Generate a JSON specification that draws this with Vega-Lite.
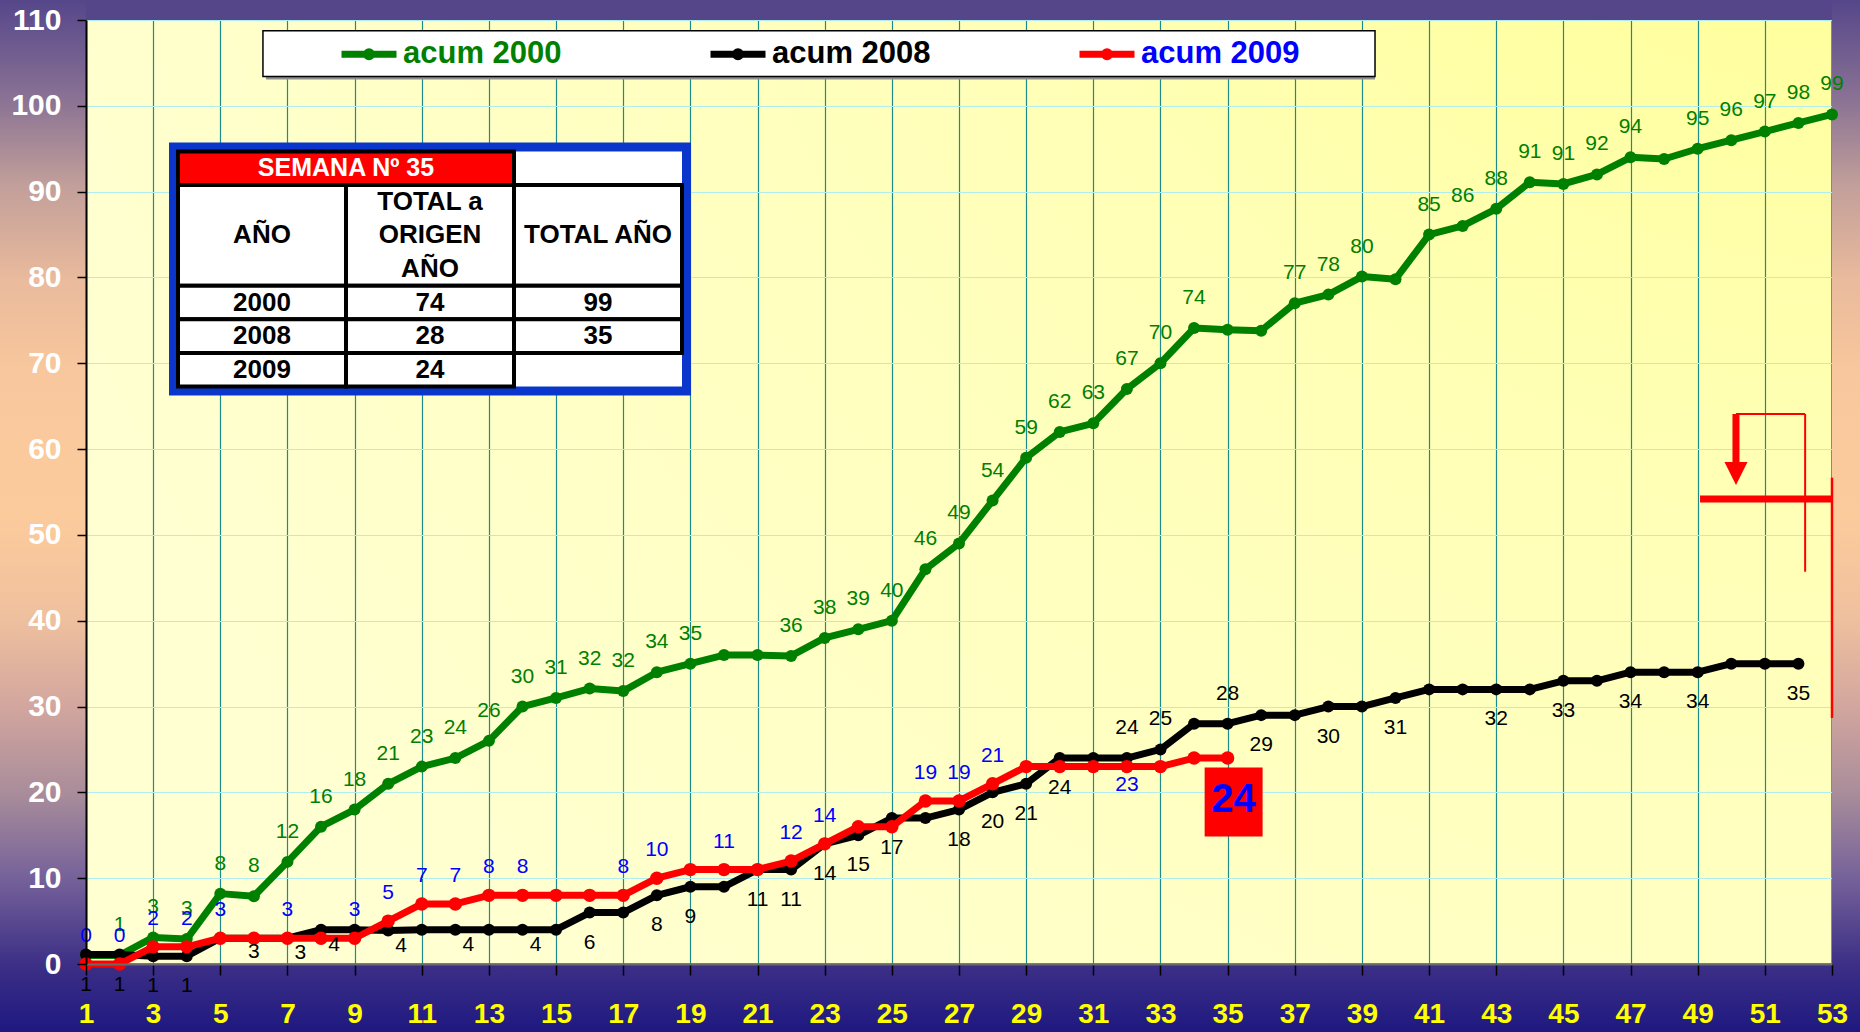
{
  "$schema": "https://vega.github.io/schema/vega-lite/v6.json",
  "width": 1746,
  "height": 944,
  "autosize": {"type": "none"},
  "padding": {"left": 86, "top": 20, "right": 28, "bottom": 68},
  "background": "#3c2f86",
  "config": {
    "font": "Liberation Sans",
    "view": {
      "fill": {"gradient": "radial", "x1": 1, "y1": 0, "r1": 0, "x2": 1, "y2": 0, "r2": 1.1,
        "stops": [{"offset": 0, "color": "#ffff8c"}, {"offset": 0.45, "color": "#ffffb6"}, {"offset": 1, "color": "#ffffd2"}]},
      "stroke": "#8c8c8c",
      "strokeWidth": 2
    }
  },
  "datasets": {
    "series": [
      {"semana": 1, "serie": "acum 2000", "valor": 1, "etiqueta": null},
      {"semana": 2, "serie": "acum 2000", "valor": 1, "etiqueta": "1"},
      {"semana": 3, "serie": "acum 2000", "valor": 3.1, "etiqueta": "3"},
      {"semana": 4, "serie": "acum 2000", "valor": 2.9, "etiqueta": "3"},
      {"semana": 5, "serie": "acum 2000", "valor": 8.2, "etiqueta": "8"},
      {"semana": 6, "serie": "acum 2000", "valor": 7.9, "etiqueta": "8"},
      {"semana": 7, "serie": "acum 2000", "valor": 11.9, "etiqueta": "12"},
      {"semana": 8, "serie": "acum 2000", "valor": 16, "etiqueta": "16"},
      {"semana": 9, "serie": "acum 2000", "valor": 18, "etiqueta": "18"},
      {"semana": 10, "serie": "acum 2000", "valor": 21, "etiqueta": "21"},
      {"semana": 11, "serie": "acum 2000", "valor": 23, "etiqueta": "23"},
      {"semana": 12, "serie": "acum 2000", "valor": 24, "etiqueta": "24"},
      {"semana": 13, "serie": "acum 2000", "valor": 26, "etiqueta": "26"},
      {"semana": 14, "serie": "acum 2000", "valor": 30, "etiqueta": "30"},
      {"semana": 15, "serie": "acum 2000", "valor": 31, "etiqueta": "31"},
      {"semana": 16, "serie": "acum 2000", "valor": 32.1, "etiqueta": "32"},
      {"semana": 17, "serie": "acum 2000", "valor": 31.8, "etiqueta": "32"},
      {"semana": 18, "serie": "acum 2000", "valor": 34, "etiqueta": "34"},
      {"semana": 19, "serie": "acum 2000", "valor": 35, "etiqueta": "35"},
      {"semana": 20, "serie": "acum 2000", "valor": 36, "etiqueta": null},
      {"semana": 21, "serie": "acum 2000", "valor": 36, "etiqueta": null},
      {"semana": 22, "serie": "acum 2000", "valor": 35.9, "etiqueta": "36"},
      {"semana": 23, "serie": "acum 2000", "valor": 38, "etiqueta": "38"},
      {"semana": 24, "serie": "acum 2000", "valor": 39, "etiqueta": "39"},
      {"semana": 25, "serie": "acum 2000", "valor": 40, "etiqueta": "40"},
      {"semana": 26, "serie": "acum 2000", "valor": 46, "etiqueta": "46"},
      {"semana": 27, "serie": "acum 2000", "valor": 49, "etiqueta": "49"},
      {"semana": 28, "serie": "acum 2000", "valor": 54, "etiqueta": "54"},
      {"semana": 29, "serie": "acum 2000", "valor": 59, "etiqueta": "59"},
      {"semana": 30, "serie": "acum 2000", "valor": 62, "etiqueta": "62"},
      {"semana": 31, "serie": "acum 2000", "valor": 63, "etiqueta": "63"},
      {"semana": 32, "serie": "acum 2000", "valor": 67, "etiqueta": "67"},
      {"semana": 33, "serie": "acum 2000", "valor": 70, "etiqueta": "70"},
      {"semana": 34, "serie": "acum 2000", "valor": 74.1, "etiqueta": "74"},
      {"semana": 35, "serie": "acum 2000", "valor": 73.9, "etiqueta": null},
      {"semana": 36, "serie": "acum 2000", "valor": 73.8, "etiqueta": null},
      {"semana": 37, "serie": "acum 2000", "valor": 77, "etiqueta": "77"},
      {"semana": 38, "serie": "acum 2000", "valor": 78, "etiqueta": "78"},
      {"semana": 39, "serie": "acum 2000", "valor": 80.1, "etiqueta": "80"},
      {"semana": 40, "serie": "acum 2000", "valor": 79.8, "etiqueta": null},
      {"semana": 41, "serie": "acum 2000", "valor": 85, "etiqueta": "85"},
      {"semana": 42, "serie": "acum 2000", "valor": 86, "etiqueta": "86"},
      {"semana": 43, "serie": "acum 2000", "valor": 88, "etiqueta": "88"},
      {"semana": 44, "serie": "acum 2000", "valor": 91.1, "etiqueta": "91"},
      {"semana": 45, "serie": "acum 2000", "valor": 90.9, "etiqueta": "91"},
      {"semana": 46, "serie": "acum 2000", "valor": 92, "etiqueta": "92"},
      {"semana": 47, "serie": "acum 2000", "valor": 94, "etiqueta": "94"},
      {"semana": 48, "serie": "acum 2000", "valor": 93.8, "etiqueta": null},
      {"semana": 49, "serie": "acum 2000", "valor": 95, "etiqueta": "95"},
      {"semana": 50, "serie": "acum 2000", "valor": 96, "etiqueta": "96"},
      {"semana": 51, "serie": "acum 2000", "valor": 97, "etiqueta": "97"},
      {"semana": 52, "serie": "acum 2000", "valor": 98, "etiqueta": "98"},
      {"semana": 53, "serie": "acum 2000", "valor": 99, "etiqueta": "99"},
      {"semana": 1, "serie": "acum 2008", "valor": 1.1, "etiqueta": "1"},
      {"semana": 2, "serie": "acum 2008", "valor": 1.1, "etiqueta": "1"},
      {"semana": 3, "serie": "acum 2008", "valor": 0.9, "etiqueta": "1"},
      {"semana": 4, "serie": "acum 2008", "valor": 0.9, "etiqueta": "1"},
      {"semana": 5, "serie": "acum 2008", "valor": 3, "etiqueta": null},
      {"semana": 6, "serie": "acum 2008", "valor": 3, "etiqueta": "3"},
      {"semana": 7, "serie": "acum 2008", "valor": 3, "etiqueta": "3"},
      {"semana": 8, "serie": "acum 2008", "valor": 4, "etiqueta": "4"},
      {"semana": 9, "serie": "acum 2008", "valor": 4, "etiqueta": null},
      {"semana": 10, "serie": "acum 2008", "valor": 3.9, "etiqueta": "4"},
      {"semana": 11, "serie": "acum 2008", "valor": 4, "etiqueta": null},
      {"semana": 12, "serie": "acum 2008", "valor": 4, "etiqueta": "4"},
      {"semana": 13, "serie": "acum 2008", "valor": 4, "etiqueta": null},
      {"semana": 14, "serie": "acum 2008", "valor": 4, "etiqueta": "4"},
      {"semana": 15, "serie": "acum 2008", "valor": 4, "etiqueta": null},
      {"semana": 16, "serie": "acum 2008", "valor": 6, "etiqueta": "6"},
      {"semana": 17, "serie": "acum 2008", "valor": 6, "etiqueta": null},
      {"semana": 18, "serie": "acum 2008", "valor": 8, "etiqueta": "8"},
      {"semana": 19, "serie": "acum 2008", "valor": 9, "etiqueta": "9"},
      {"semana": 20, "serie": "acum 2008", "valor": 9, "etiqueta": null},
      {"semana": 21, "serie": "acum 2008", "valor": 11, "etiqueta": "11"},
      {"semana": 22, "serie": "acum 2008", "valor": 11, "etiqueta": "11"},
      {"semana": 23, "serie": "acum 2008", "valor": 14, "etiqueta": "14"},
      {"semana": 24, "serie": "acum 2008", "valor": 15, "etiqueta": "15"},
      {"semana": 25, "serie": "acum 2008", "valor": 17, "etiqueta": "17"},
      {"semana": 26, "serie": "acum 2008", "valor": 17, "etiqueta": null},
      {"semana": 27, "serie": "acum 2008", "valor": 18, "etiqueta": "18"},
      {"semana": 28, "serie": "acum 2008", "valor": 20, "etiqueta": "20"},
      {"semana": 29, "serie": "acum 2008", "valor": 21, "etiqueta": "21"},
      {"semana": 30, "serie": "acum 2008", "valor": 24, "etiqueta": "24"},
      {"semana": 31, "serie": "acum 2008", "valor": 24, "etiqueta": null},
      {"semana": 32, "serie": "acum 2008", "valor": 24, "etiqueta": "24"},
      {"semana": 33, "serie": "acum 2008", "valor": 25, "etiqueta": "25"},
      {"semana": 34, "serie": "acum 2008", "valor": 28, "etiqueta": null},
      {"semana": 35, "serie": "acum 2008", "valor": 28, "etiqueta": "28"},
      {"semana": 36, "serie": "acum 2008", "valor": 29, "etiqueta": "29"},
      {"semana": 37, "serie": "acum 2008", "valor": 29, "etiqueta": null},
      {"semana": 38, "serie": "acum 2008", "valor": 30, "etiqueta": "30"},
      {"semana": 39, "serie": "acum 2008", "valor": 30, "etiqueta": null},
      {"semana": 40, "serie": "acum 2008", "valor": 31, "etiqueta": "31"},
      {"semana": 41, "serie": "acum 2008", "valor": 32, "etiqueta": null},
      {"semana": 42, "serie": "acum 2008", "valor": 32, "etiqueta": null},
      {"semana": 43, "serie": "acum 2008", "valor": 32, "etiqueta": "32"},
      {"semana": 44, "serie": "acum 2008", "valor": 32, "etiqueta": null},
      {"semana": 45, "serie": "acum 2008", "valor": 33, "etiqueta": "33"},
      {"semana": 46, "serie": "acum 2008", "valor": 33, "etiqueta": null},
      {"semana": 47, "serie": "acum 2008", "valor": 34, "etiqueta": "34"},
      {"semana": 48, "serie": "acum 2008", "valor": 34, "etiqueta": null},
      {"semana": 49, "serie": "acum 2008", "valor": 34, "etiqueta": "34"},
      {"semana": 50, "serie": "acum 2008", "valor": 35, "etiqueta": null},
      {"semana": 51, "serie": "acum 2008", "valor": 35, "etiqueta": null},
      {"semana": 52, "serie": "acum 2008", "valor": 35, "etiqueta": "35"},
      {"semana": 1, "serie": "acum 2009", "valor": 0, "etiqueta": "0"},
      {"semana": 2, "serie": "acum 2009", "valor": 0, "etiqueta": "0"},
      {"semana": 3, "serie": "acum 2009", "valor": 2, "etiqueta": "2"},
      {"semana": 4, "serie": "acum 2009", "valor": 2, "etiqueta": "2"},
      {"semana": 5, "serie": "acum 2009", "valor": 3, "etiqueta": "3"},
      {"semana": 6, "serie": "acum 2009", "valor": 3, "etiqueta": null},
      {"semana": 7, "serie": "acum 2009", "valor": 3, "etiqueta": "3"},
      {"semana": 8, "serie": "acum 2009", "valor": 3, "etiqueta": null},
      {"semana": 9, "serie": "acum 2009", "valor": 3, "etiqueta": "3"},
      {"semana": 10, "serie": "acum 2009", "valor": 5, "etiqueta": "5"},
      {"semana": 11, "serie": "acum 2009", "valor": 7, "etiqueta": "7"},
      {"semana": 12, "serie": "acum 2009", "valor": 7, "etiqueta": "7"},
      {"semana": 13, "serie": "acum 2009", "valor": 8, "etiqueta": "8"},
      {"semana": 14, "serie": "acum 2009", "valor": 8, "etiqueta": "8"},
      {"semana": 15, "serie": "acum 2009", "valor": 8, "etiqueta": null},
      {"semana": 16, "serie": "acum 2009", "valor": 8, "etiqueta": null},
      {"semana": 17, "serie": "acum 2009", "valor": 8, "etiqueta": "8"},
      {"semana": 18, "serie": "acum 2009", "valor": 10, "etiqueta": "10"},
      {"semana": 19, "serie": "acum 2009", "valor": 11, "etiqueta": null},
      {"semana": 20, "serie": "acum 2009", "valor": 11, "etiqueta": "11"},
      {"semana": 21, "serie": "acum 2009", "valor": 11, "etiqueta": null},
      {"semana": 22, "serie": "acum 2009", "valor": 12, "etiqueta": "12"},
      {"semana": 23, "serie": "acum 2009", "valor": 14, "etiqueta": "14"},
      {"semana": 24, "serie": "acum 2009", "valor": 16, "etiqueta": null},
      {"semana": 25, "serie": "acum 2009", "valor": 16, "etiqueta": null},
      {"semana": 26, "serie": "acum 2009", "valor": 19, "etiqueta": "19"},
      {"semana": 27, "serie": "acum 2009", "valor": 19, "etiqueta": "19"},
      {"semana": 28, "serie": "acum 2009", "valor": 21, "etiqueta": "21"},
      {"semana": 29, "serie": "acum 2009", "valor": 23, "etiqueta": null},
      {"semana": 30, "serie": "acum 2009", "valor": 23, "etiqueta": null},
      {"semana": 31, "serie": "acum 2009", "valor": 23, "etiqueta": null},
      {"semana": 32, "serie": "acum 2009", "valor": 23, "etiqueta": "23"},
      {"semana": 33, "serie": "acum 2009", "valor": 23, "etiqueta": null},
      {"semana": 34, "serie": "acum 2009", "valor": 24, "etiqueta": null},
      {"semana": 35, "serie": "acum 2009", "valor": 24, "etiqueta": "24"}
    ],
    "tabla": [
      {"tipo": "marco", "col_ini": "c1", "col_fin": "c3", "fila_ini": "sem", "fila_fin": "2009", "texto": ""},
      {"tipo": "vacio", "col_ini": "c3", "col_fin": "c3", "fila_ini": "sem", "fila_fin": "sem", "texto": ""},
      {"tipo": "vacio", "col_ini": "c3", "col_fin": "c3", "fila_ini": "2009", "fila_fin": "2009", "texto": ""},
      {"tipo": "titulo", "col_ini": "c1", "col_fin": "c2", "fila_ini": "sem", "fila_fin": "sem", "texto": "SEMANA Nº 35"},
      {"tipo": "cabecera", "col_ini": "c1", "col_fin": "c1", "fila_ini": "h1", "fila_fin": "h3", "texto": "AÑO"},
      {"tipo": "cabecera", "col_ini": "c2", "col_fin": "c2", "fila_ini": "h1", "fila_fin": "h3", "texto": ["TOTAL a", "ORIGEN", "AÑO"]},
      {"tipo": "cabecera", "col_ini": "c3", "col_fin": "c3", "fila_ini": "h1", "fila_fin": "h3", "texto": "TOTAL AÑO"},
      {"tipo": "dato", "col_ini": "c1", "col_fin": "c1", "fila_ini": "2000", "fila_fin": "2000", "texto": "2000"},
      {"tipo": "dato", "col_ini": "c2", "col_fin": "c2", "fila_ini": "2000", "fila_fin": "2000", "texto": "74"},
      {"tipo": "dato", "col_ini": "c3", "col_fin": "c3", "fila_ini": "2000", "fila_fin": "2000", "texto": "99"},
      {"tipo": "dato", "col_ini": "c1", "col_fin": "c1", "fila_ini": "2008", "fila_fin": "2008", "texto": "2008"},
      {"tipo": "dato", "col_ini": "c2", "col_fin": "c2", "fila_ini": "2008", "fila_fin": "2008", "texto": "28"},
      {"tipo": "dato", "col_ini": "c3", "col_fin": "c3", "fila_ini": "2008", "fila_fin": "2008", "texto": "35"},
      {"tipo": "dato", "col_ini": "c1", "col_fin": "c1", "fila_ini": "2009", "fila_fin": "2009", "texto": "2009"},
      {"tipo": "dato", "col_ini": "c2", "col_fin": "c2", "fila_ini": "2009", "fila_fin": "2009", "texto": "24"}
    ]
  },
  "layer": [
    {
      "data": {"name": "series"},
      "resolve": {"axis": {"x": "independent", "y": "independent"}},
      "layer": [
        {
          "data": {"values": [{}]},
          "mark": {"type": "rect", "strokeWidth": 0,
            "fill": {"gradient": "linear", "x1": 0, "y1": 0, "x2": 0, "y2": 1, "stops": [
              {"offset": 0, "color": "#55468a"}, {"offset": 0.1, "color": "#8c7494"}, {"offset": 0.18, "color": "#c29f9a"},
              {"offset": 0.27, "color": "#e9ba9c"}, {"offset": 0.36, "color": "#f8c79d"}, {"offset": 0.5, "color": "#fccb9c"},
              {"offset": 0.6, "color": "#efc09e"}, {"offset": 0.685, "color": "#d2a69e"}, {"offset": 0.77, "color": "#a88c9a"},
              {"offset": 0.85, "color": "#76629a"}, {"offset": 0.934, "color": "#3c2f86"}, {"offset": 1, "color": "#1e1880"}]}},
          "encoding": {
            "x": {"datum": -1.7, "type": "quantitative", "scale": {"domain": [1, 53], "nice": false, "zero": false}, "axis": null},
            "x2": {"datum": 1},
            "y": {"datum": -8, "type": "quantitative", "scale": {"domain": [0, 110], "nice": false, "zero": false}, "axis": null},
            "y2": {"datum": 112.4}
          }
        },
        {
          "data": {"values": [{}]},
          "mark": {"type": "rect", "strokeWidth": 0,
            "fill": {"gradient": "linear", "x1": 0, "y1": 0, "x2": 0, "y2": 1, "stops": [
              {"offset": 0, "color": "#55468a"}, {"offset": 0.1, "color": "#8c7494"}, {"offset": 0.18, "color": "#c29f9a"},
              {"offset": 0.27, "color": "#e9ba9c"}, {"offset": 0.36, "color": "#f8c79d"}, {"offset": 0.5, "color": "#fccb9c"},
              {"offset": 0.6, "color": "#efc09e"}, {"offset": 0.685, "color": "#d2a69e"}, {"offset": 0.77, "color": "#a88c9a"},
              {"offset": 0.85, "color": "#76629a"}, {"offset": 0.934, "color": "#3c2f86"}, {"offset": 1, "color": "#1e1880"}]}},
          "encoding": {
            "x": {"datum": 53, "type": "quantitative", "axis": null},
            "x2": {"datum": 54},
            "y": {"datum": -8, "type": "quantitative", "axis": null},
            "y2": {"datum": 112.4}
          }
        },
        {
          "data": {"values": [{}]},
          "mark": {"type": "rect", "strokeWidth": 0, "fill": "#55468a"},
          "encoding": {
            "x": {"datum": 1, "type": "quantitative", "axis": null},
            "x2": {"datum": 53},
            "y": {"datum": 110, "type": "quantitative", "axis": null},
            "y2": {"datum": 112.4}
          }
        },
        {
          "data": {"values": [{}]},
          "mark": {"type": "rect", "strokeWidth": 0,
            "fill": {"gradient": "linear", "x1": 0, "y1": 0, "x2": 0, "y2": 1, "stops": [
              {"offset": 0, "color": "#3c2f86"}, {"offset": 1, "color": "#1e1880"}]}},
          "encoding": {
            "x": {"datum": 1, "type": "quantitative", "axis": null},
            "x2": {"datum": 53},
            "y": {"datum": -8, "type": "quantitative", "axis": null},
            "y2": {"datum": 0}
          }
        },
        {
          "data": {"values": [{}]},
          "mark": {"type": "rect", "fill": "#8f8f8f", "xOffset": 3, "yOffset": 3},
          "encoding": {
            "x": {"datum": 6.27, "type": "quantitative", "axis": null},
            "x2": {"datum": 39.39},
            "y": {"datum": 103.42, "type": "quantitative", "axis": null},
            "y2": {"datum": 108.74}
          }
        },
        {
          "data": {"values": [{}]},
          "mark": {"type": "rect", "fill": "#ffffff", "stroke": "#000000", "strokeWidth": 1.5},
          "encoding": {
            "x": {"datum": 6.27, "type": "quantitative", "axis": null},
            "x2": {"datum": 39.39},
            "y": {"datum": 103.42, "type": "quantitative", "axis": null},
            "y2": {"datum": 108.74}
          }
        },
        {
          "transform": [{"filter": "datum.serie == 'acum 2000'"}],
          "mark": {"type": "line", "strokeWidth": 7, "strokeJoin": "round", "strokeCap": "round"},
          "encoding": {
            "x": {"field": "semana", "type": "quantitative",
              "axis": {"orient": "bottom", "values": [1,3,5,7,9,11,13,15,17,19,21,23,25,27,29,31,33,35,37,39,41,43,45,47,49,51,53],
                "grid": true, "gridColor": "#1f8a8a", "gridWidth": 1.2, "gridOpacity": 1, "labels": false, "ticks": false, "domain": false, "title": null, "zindex": 0}},
            "y": {"field": "valor", "type": "quantitative",
              "axis": {"orient": "left", "values": [0,10,20,30,40,50,60,70,80,90,100,110],
                "grid": true, "gridColor": "#b0eeee", "gridWidth": 1, "gridOpacity": 1, "labels": false, "ticks": false, "domain": false, "title": null, "zindex": 0}},
            "stroke": {"field": "serie", "type": "nominal",
              "scale": {"domain": ["acum 2000", "acum 2008", "acum 2009"], "range": ["#008000", "#000000", "#ff0000"]},
              "legend": {"orient": "none", "legendX": 252, "legendY": 3, "direction": "horizontal", "title": null,
                "symbolType": "M-1,0H1M0.09,0A0.09,0.09,0,1,1,-0.09,0A0.09,0.09,0,1,1,0.09,0",
                "symbolSize": 3025, "symbolStrokeWidth": 7, "symbolFillColor": "transparent",
                "labelFont": "Liberation Sans", "labelFontSize": 31, "labelFontWeight": "bold",
                "labelColor": {"expr": "datum.value == 'acum 2009' ? '#0000ff' : (datum.value == 'acum 2000' ? '#008000' : '#000000')"},
                "labelOffset": 3, "columnPadding": 134, "padding": 0, "labelLimit": 500}}
          }
        },
        {
          "transform": [{"filter": "datum.serie == 'acum 2000'"}],
          "mark": {"type": "point", "shape": "circle", "filled": true, "size": 144, "opacity": 1},
          "encoding": {
            "x": {"field": "semana", "type": "quantitative", "axis": null},
            "y": {"field": "valor", "type": "quantitative", "axis": null},
            "fill": {"field": "serie", "type": "nominal",
              "scale": {"domain": ["acum 2000", "acum 2008", "acum 2009"], "range": ["#008000", "#000000", "#ff0000"]}, "legend": null}
          }
        },
        {
          "transform": [{"filter": "datum.serie == 'acum 2008'"}],
          "mark": {"type": "line", "strokeWidth": 7, "strokeJoin": "round", "strokeCap": "round"},
          "encoding": {
            "x": {"field": "semana", "type": "quantitative", "axis": null},
            "y": {"field": "valor", "type": "quantitative", "axis": null},
            "stroke": {"field": "serie", "type": "nominal"}
          }
        },
        {
          "transform": [{"filter": "datum.serie == 'acum 2008'"}],
          "mark": {"type": "point", "shape": "circle", "filled": true, "size": 144, "opacity": 1},
          "encoding": {
            "x": {"field": "semana", "type": "quantitative", "axis": null},
            "y": {"field": "valor", "type": "quantitative", "axis": null},
            "fill": {"field": "serie", "type": "nominal", "legend": null}
          }
        },
        {
          "transform": [{"filter": "datum.serie == 'acum 2009'"}],
          "mark": {"type": "line", "strokeWidth": 7, "strokeJoin": "round", "strokeCap": "round"},
          "encoding": {
            "x": {"field": "semana", "type": "quantitative",
              "axis": {"orient": "bottom", "values": [1,3,5,7,9,11,13,15,17,19,21,23,25,27,29,31,33,35,37,39,41,43,45,47,49,51,53],
                "format": "d", "grid": false, "labelColor": "#ffff00", "labelFont": "Liberation Sans", "labelFontSize": 28, "labelFontWeight": "bold",
                "labelPadding": 25, "labelFlush": false, "labelOverlap": false, "labelBound": false,
                "tickColor": "#000000", "tickSize": 11, "tickWidth": 1.5,
                "domain": true, "domainColor": "#6a6a6a", "domainWidth": 2, "title": null, "zindex": 1}},
            "y": {"field": "valor", "type": "quantitative",
              "axis": {"orient": "left", "values": [0,10,20,30,40,50,60,70,80,90,100,110],
                "format": "d", "grid": false, "labelColor": "#ffffff", "labelFont": "Liberation Sans", "labelFontSize": 30, "labelFontWeight": "bold",
                "labelPadding": 16, "labelFlush": false, "labelOverlap": false, "labelBound": false,
                "tickColor": "#000000", "tickSize": 9, "tickWidth": 1.5,
                "domain": true, "domainColor": "#000000", "domainWidth": 2, "title": null, "zindex": 1}},
            "stroke": {"field": "serie", "type": "nominal"}
          }
        },
        {
          "transform": [{"filter": "datum.serie == 'acum 2009'"}],
          "mark": {"type": "point", "shape": "circle", "filled": true, "size": 180, "opacity": 1},
          "encoding": {
            "x": {"field": "semana", "type": "quantitative", "axis": null},
            "y": {"field": "valor", "type": "quantitative", "axis": null},
            "fill": {"field": "serie", "type": "nominal", "legend": null}
          }
        },
        {
          "transform": [{"filter": "datum.serie == 'acum 2000' && datum.etiqueta != null"}],
          "mark": {"type": "text", "font": "Liberation Sans", "fontSize": 21, "fill": "#008000", "baseline": "middle", "dy": -30},
          "encoding": {
            "x": {"field": "semana", "type": "quantitative", "axis": null},
            "y": {"field": "valor", "type": "quantitative", "axis": null},
            "text": {"field": "etiqueta"}
          }
        },
        {
          "transform": [{"filter": "datum.serie == 'acum 2008' && datum.etiqueta != null && (datum.semana < 6 || datum.semana > 14) && datum.semana != 32 && datum.semana != 33 && datum.semana != 35"}],
          "mark": {"type": "text", "font": "Liberation Sans", "fontSize": 21, "fill": "#000000", "baseline": "middle", "dy": 30},
          "encoding": {
            "x": {"field": "semana", "type": "quantitative", "axis": null},
            "y": {"field": "valor", "type": "quantitative", "axis": null},
            "text": {"field": "etiqueta"}
          }
        },
        {
          "transform": [{"filter": "datum.serie == 'acum 2008' && datum.semana == 6"}],
          "mark": {"type": "text", "font": "Liberation Sans", "fontSize": 21, "fill": "#000000", "baseline": "middle", "dy": 14},
          "encoding": {
            "x": {"field": "semana", "type": "quantitative", "axis": null},
            "y": {"field": "valor", "type": "quantitative", "axis": null},
            "text": {"field": "etiqueta"}
          }
        },
        {
          "transform": [{"filter": "datum.serie == 'acum 2008' && datum.etiqueta != null && datum.semana >= 7 && datum.semana <= 14"}],
          "mark": {"type": "text", "font": "Liberation Sans", "fontSize": 21, "fill": "#000000", "baseline": "middle", "dx": 13, "dy": 15},
          "encoding": {
            "x": {"field": "semana", "type": "quantitative", "axis": null},
            "y": {"field": "valor", "type": "quantitative", "axis": null},
            "text": {"field": "etiqueta"}
          }
        },
        {
          "transform": [{"filter": "datum.serie == 'acum 2008' && (datum.semana == 32 || datum.semana == 33 || datum.semana == 35)"}],
          "mark": {"type": "text", "font": "Liberation Sans", "fontSize": 21, "fill": "#000000", "baseline": "middle", "dy": -30},
          "encoding": {
            "x": {"field": "semana", "type": "quantitative", "axis": null},
            "y": {"field": "valor", "type": "quantitative", "axis": null},
            "text": {"field": "etiqueta"}
          }
        },
        {
          "transform": [{"filter": "datum.serie == 'acum 2009' && datum.etiqueta != null && datum.semana != 32 && datum.semana != 35"}],
          "mark": {"type": "text", "font": "Liberation Sans", "fontSize": 21, "fill": "#0000ff", "baseline": "middle", "dy": -28},
          "encoding": {
            "x": {"field": "semana", "type": "quantitative", "axis": null},
            "y": {"field": "valor", "type": "quantitative", "axis": null},
            "text": {"field": "etiqueta"}
          }
        },
        {
          "transform": [{"filter": "datum.serie == 'acum 2009' && datum.semana == 32"}],
          "mark": {"type": "text", "font": "Liberation Sans", "fontSize": 21, "fill": "#0000ff", "baseline": "middle", "dy": 18},
          "encoding": {
            "x": {"field": "semana", "type": "quantitative", "axis": null},
            "y": {"field": "valor", "type": "quantitative", "axis": null},
            "text": {"field": "etiqueta"}
          }
        },
        {
          "transform": [{"filter": "datum.serie == 'acum 2009' && datum.semana == 35"}],
          "mark": {"type": "point", "shape": "M-0.84,-1H0.84V1H-0.84Z", "size": 4761, "filled": true, "fill": "#ff0000", "opacity": 1, "strokeWidth": 0, "xOffset": 6, "yOffset": 44},
          "encoding": {
            "x": {"field": "semana", "type": "quantitative", "axis": null},
            "y": {"field": "valor", "type": "quantitative", "axis": null}
          }
        },
        {
          "transform": [{"filter": "datum.serie == 'acum 2009' && datum.semana == 35"}],
          "mark": {"type": "text", "font": "Liberation Sans", "fontSize": 40, "fontWeight": "bold", "fill": "#0000ff", "baseline": "middle", "dx": 6, "dy": 42},
          "encoding": {
            "x": {"field": "semana", "type": "quantitative", "axis": null},
            "y": {"field": "valor", "type": "quantitative", "axis": null},
            "text": {"field": "etiqueta"}
          }
        },
        {
          "data": {"values": [{}]},
          "mark": {"type": "rule", "color": "#ff0000", "strokeWidth": 7},
          "encoding": {
            "x": {"datum": 49.07, "type": "quantitative", "axis": null},
            "x2": {"datum": 53},
            "y": {"datum": 54.18, "type": "quantitative", "axis": null}
          }
        },
        {
          "data": {"values": [{}]},
          "mark": {"type": "rule", "color": "#ff0000", "strokeWidth": 2.5},
          "encoding": {
            "x": {"datum": 53, "type": "quantitative", "axis": null},
            "y": {"datum": 56.67, "type": "quantitative", "axis": null},
            "y2": {"datum": 28.67}
          }
        },
        {
          "data": {"values": [{}]},
          "mark": {"type": "rule", "color": "#ff0000", "strokeWidth": 2},
          "encoding": {
            "x": {"datum": 52.2, "type": "quantitative", "axis": null},
            "y": {"datum": 64.09, "type": "quantitative", "axis": null},
            "y2": {"datum": 45.71}
          }
        },
        {
          "data": {"values": [{}]},
          "mark": {"type": "rule", "color": "#ff0000", "strokeWidth": 2},
          "encoding": {
            "x": {"datum": 50.14, "type": "quantitative", "axis": null},
            "x2": {"datum": 52.2},
            "y": {"datum": 64.09, "type": "quantitative", "axis": null}
          }
        },
        {
          "data": {"values": [{}]},
          "mark": {"type": "rule", "color": "#ff0000", "strokeWidth": 7},
          "encoding": {
            "x": {"datum": 50.14, "type": "quantitative", "axis": null},
            "y": {"datum": 64.09, "type": "quantitative", "axis": null},
            "y2": {"datum": 58.2}
          }
        },
        {
          "data": {"values": [{}]},
          "mark": {"type": "point", "shape": "M-1,-1L1,-1L0,1Z", "size": 529, "filled": true, "fill": "#ff0000", "opacity": 1, "strokeWidth": 0},
          "encoding": {
            "x": {"datum": 50.14, "type": "quantitative", "axis": null},
            "y": {"datum": 57.16, "type": "quantitative", "axis": null}
          }
        }
      ]
    },
    {
      "data": {"name": "tabla"},
      "layer": [
        {
          "transform": [{"filter": "datum.tipo == 'marco'"}],
          "mark": {"type": "rect", "fill": "#ffffff", "stroke": "#0b36cc", "strokeWidth": 18},
          "encoding": {
            "x": {"field": "col_ini", "type": "nominal", "bandPosition": 0,
              "scale": {"type": "band", "domain": ["c1", "c2", "c3"], "range": [92, 596], "paddingInner": 0, "paddingOuter": 0}, "axis": null},
            "x2": {"field": "col_fin", "bandPosition": 1},
            "y": {"field": "fila_ini", "type": "nominal", "bandPosition": 0,
              "scale": {"type": "band", "domain": ["sem", "h1", "h2", "h3", "2000", "2008", "2009"], "range": [131.5, 366.5], "paddingInner": 0, "paddingOuter": 0}, "axis": null},
            "y2": {"field": "fila_fin", "bandPosition": 1}
          }
        },
        {
          "transform": [{"filter": "datum.tipo == 'vacio'"}],
          "mark": {"type": "rect", "fill": "#ffffff", "strokeWidth": 0},
          "encoding": {
            "x": {"field": "col_ini", "type": "nominal", "bandPosition": 0, "axis": null},
            "x2": {"field": "col_fin", "bandPosition": 1},
            "y": {"field": "fila_ini", "type": "nominal", "bandPosition": 0, "axis": null},
            "y2": {"field": "fila_fin", "bandPosition": 1}
          }
        },
        {
          "transform": [{"filter": "datum.tipo == 'titulo' || datum.tipo == 'cabecera' || datum.tipo == 'dato'"}],
          "mark": {"type": "rect", "stroke": "#000000", "strokeWidth": 4},
          "encoding": {
            "x": {"field": "col_ini", "type": "nominal", "bandPosition": 0, "axis": null},
            "x2": {"field": "col_fin", "bandPosition": 1},
            "y": {"field": "fila_ini", "type": "nominal", "bandPosition": 0, "axis": null},
            "y2": {"field": "fila_fin", "bandPosition": 1},
            "fill": {"condition": {"test": "datum.tipo == 'titulo'", "value": "#ff0000"}, "value": "#ffffff"}
          }
        },
        {
          "transform": [{"filter": "datum.tipo == 'titulo'"}],
          "mark": {"type": "text", "font": "Liberation Sans", "fontSize": 25, "fontWeight": "bold", "fill": "#ffffff", "baseline": "middle"},
          "encoding": {
            "x": {"field": "col_fin", "type": "nominal", "bandPosition": 0, "axis": null},
            "y": {"field": "fila_ini", "type": "nominal", "bandPosition": 0.5, "axis": null},
            "text": {"field": "texto"}
          }
        },
        {
          "transform": [{"filter": "datum.tipo == 'cabecera' && !isArray(datum.texto)"}],
          "mark": {"type": "text", "font": "Liberation Sans", "fontSize": 26, "fontWeight": "bold", "fill": "#000000", "baseline": "middle", "dy": 50.35},
          "encoding": {
            "x": {"field": "col_ini", "type": "nominal", "bandPosition": 0.5, "axis": null},
            "y": {"field": "fila_ini", "type": "nominal", "bandPosition": 0, "axis": null},
            "text": {"field": "texto"}
          }
        },
        {
          "transform": [{"filter": "datum.tipo == 'cabecera' && isArray(datum.texto)"}],
          "mark": {"type": "text", "font": "Liberation Sans", "fontSize": 26, "fontWeight": "bold", "fill": "#000000", "baseline": "middle", "lineHeight": 33.5, "dy": 16.85},
          "encoding": {
            "x": {"field": "col_ini", "type": "nominal", "bandPosition": 0.5, "axis": null},
            "y": {"field": "fila_ini", "type": "nominal", "bandPosition": 0, "axis": null},
            "text": {"field": "texto"}
          }
        },
        {
          "transform": [{"filter": "datum.tipo == 'dato'"}],
          "mark": {"type": "text", "font": "Liberation Sans", "fontSize": 26, "fontWeight": "bold", "fill": "#000000", "baseline": "middle"},
          "encoding": {
            "x": {"field": "col_ini", "type": "nominal", "bandPosition": 0.5, "axis": null},
            "y": {"field": "fila_ini", "type": "nominal", "bandPosition": 0.5, "axis": null},
            "text": {"field": "texto"}
          }
        }
      ]
    }
  ],
  "resolve": {"scale": {"x": "independent", "y": "independent"}}
}
